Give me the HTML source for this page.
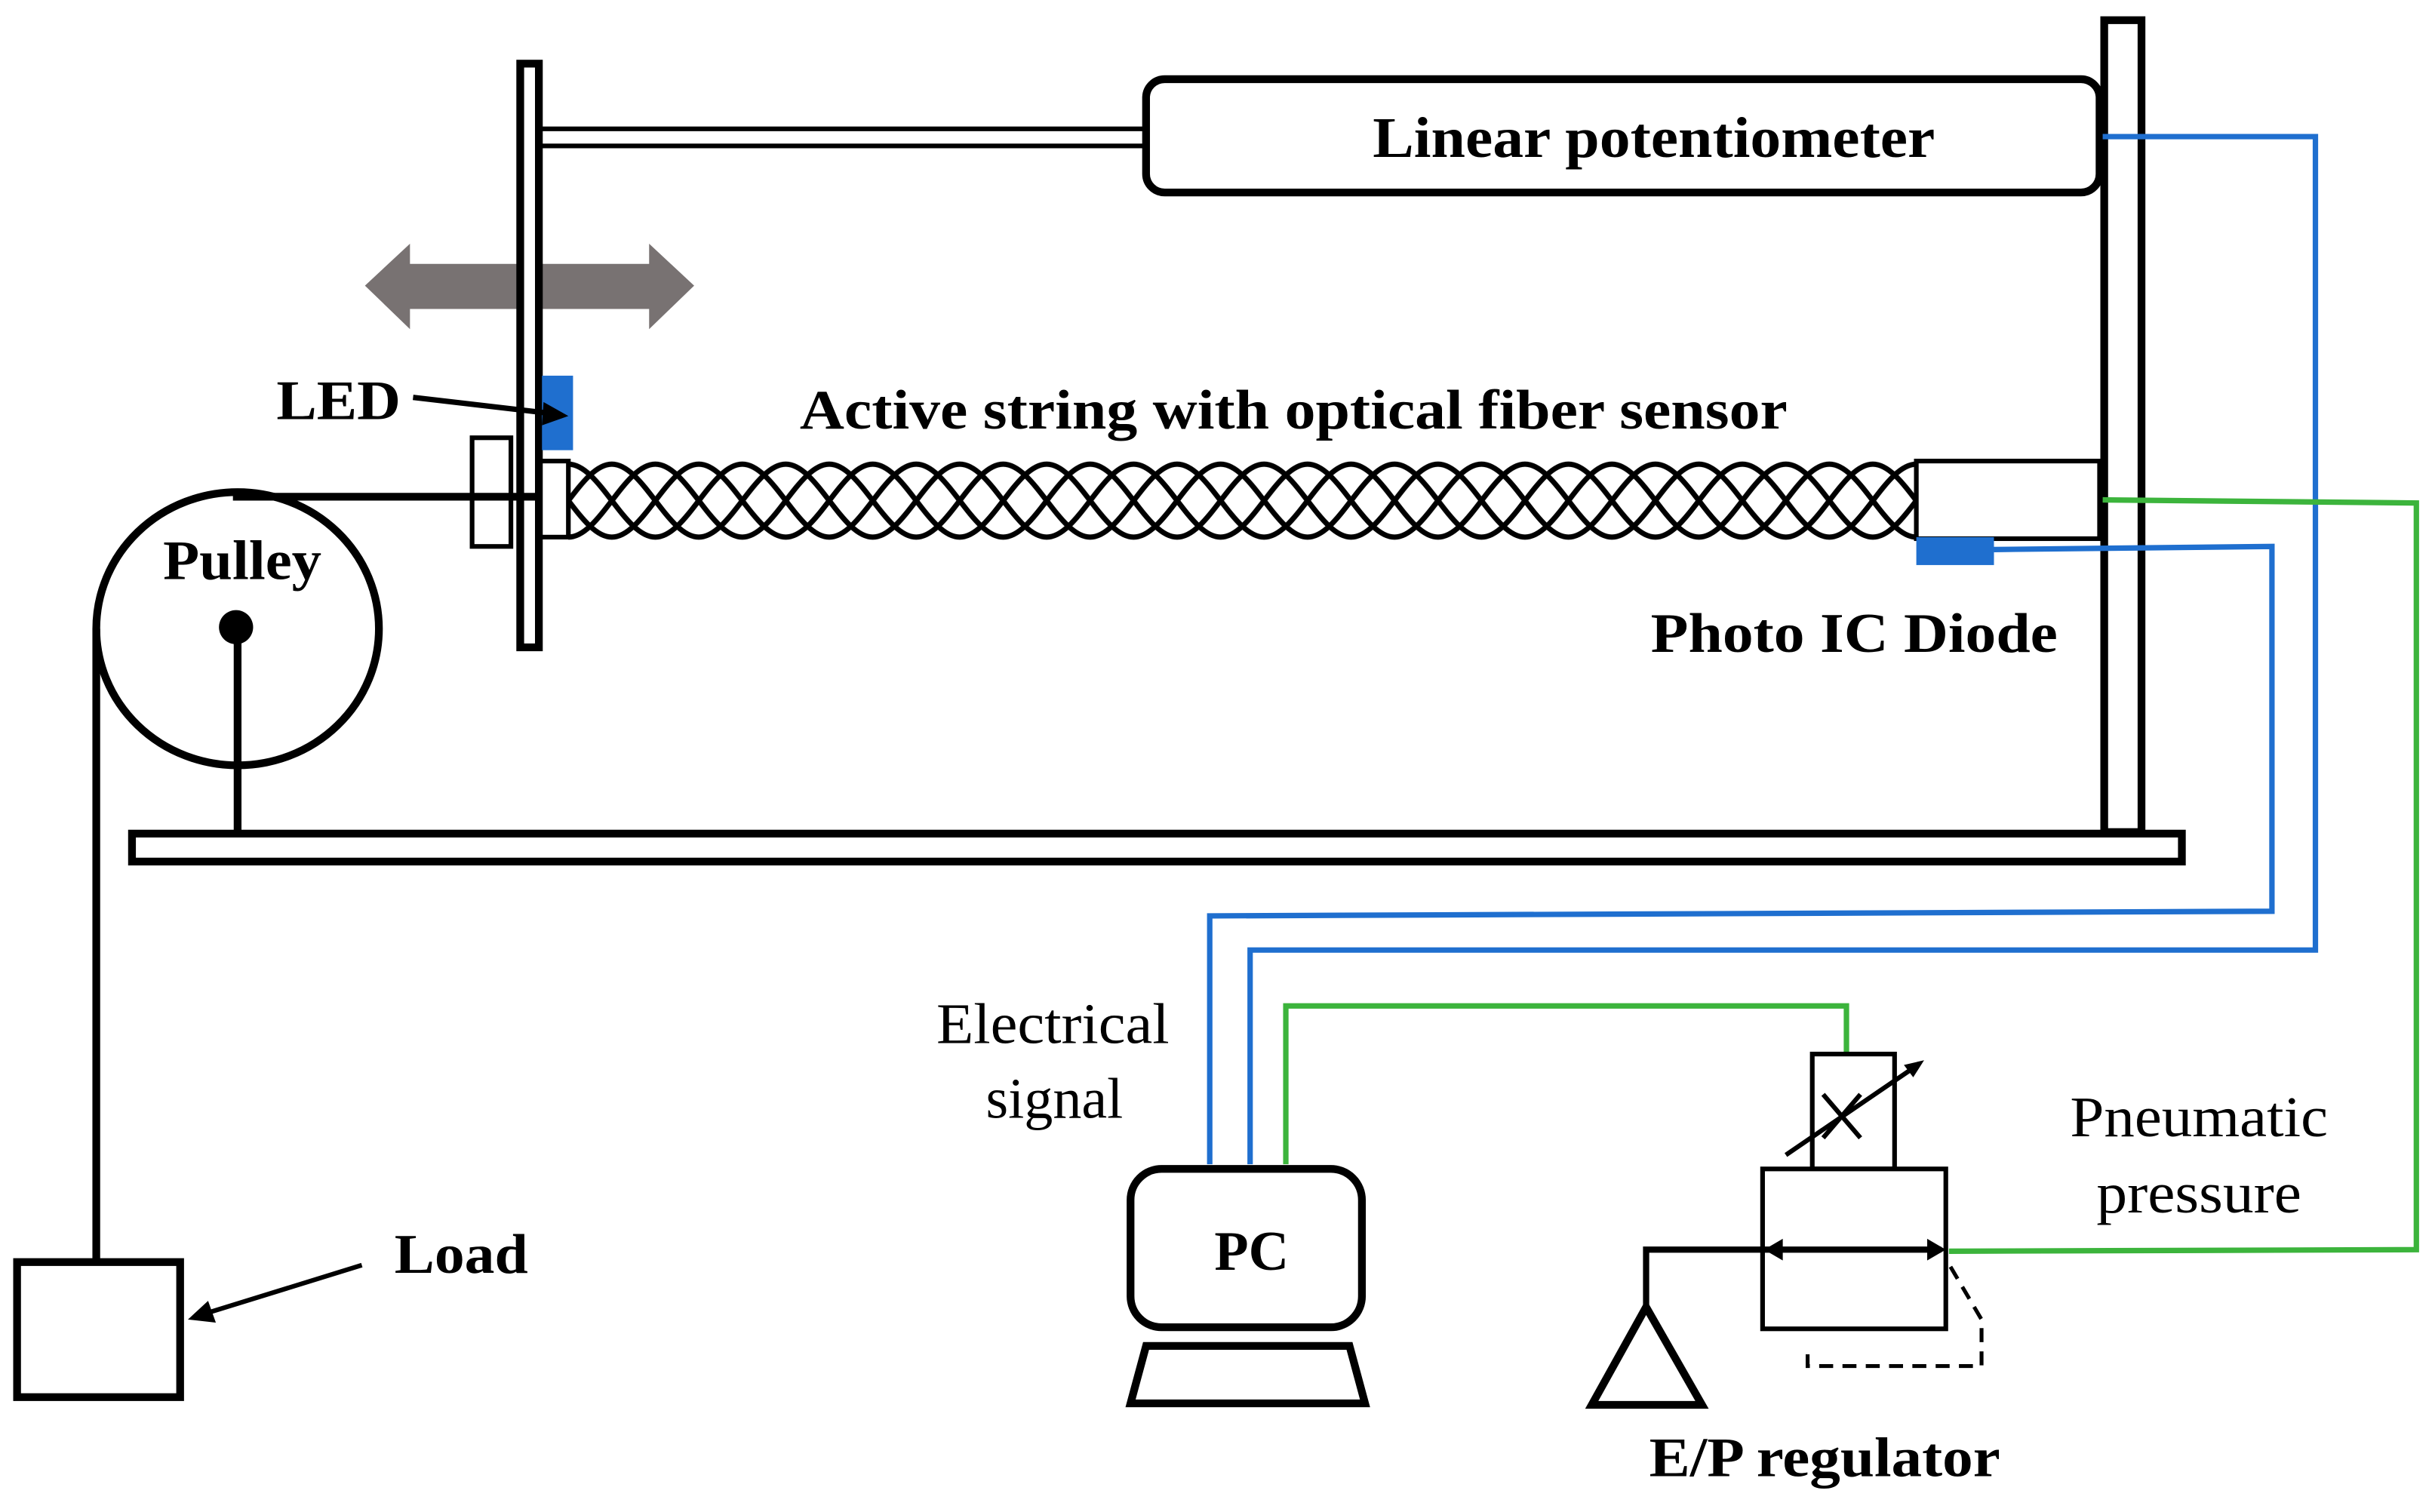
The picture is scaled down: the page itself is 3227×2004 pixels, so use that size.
<!DOCTYPE html>
<html><head><meta charset="utf-8"><style>
html,body{margin:0;padding:0;background:#fff;}
svg{display:block;}
text{font-family:"Liberation Serif",serif;fill:#000;}
.b{font-weight:bold;}
</style></head><body>
<svg width="3227" height="2004" viewBox="0 0 1568 974" preserveAspectRatio="none" xmlns="http://www.w3.org/2000/svg">
<defs>
<pattern id="rope" patternUnits="userSpaceOnUse" x="366" y="297" width="56" height="51">
<g fill="none" stroke="#000" stroke-width="3.4">
<path d="M0 2 C20 2 36 49 56 49"/>
<path d="M0 49 C20 49 36 2 56 2"/>
<path d="M-28 2 C-8 2 8 49 28 49 C48 49 64 2 84 2"/>
<path d="M-28 49 C-8 49 8 2 28 2 C48 2 64 49 84 49"/>
</g>
</pattern>
</defs>
<rect width="1568" height="974" fill="#fff"/>
<rect x="85" y="537" width="1320" height="18" fill="#fff" stroke="#000" stroke-width="5"/>
<rect x="1355" y="13" width="24" height="523" fill="#fff" stroke="#000" stroke-width="5"/>
<rect x="347" y="83" width="392" height="11" fill="#fff" stroke="#000" stroke-width="3"/>
<rect x="738" y="51" width="614" height="73" rx="12" fill="#fff" stroke="#000" stroke-width="5"/>
<text class="b" x="1065" y="101" font-size="37" text-anchor="middle" textLength="362" lengthAdjust="spacingAndGlyphs">Linear potentiometer</text>
<g fill="none" stroke="#1f6fcf" stroke-width="3.5">
<polyline points="1354,88 1491,88 1491,612 805,612 805,750"/>
<polyline points="1284,354 1463,352 1463,587 779,590 779,750"/>
</g>
<g fill="none" stroke="#3cb43c" stroke-width="3.5">
<polyline points="1354,322 1556,324 1556,805 1255,806"/>
<polyline points="828,750 828,648 1189,648 1189,678"/>
</g>
<polygon points="235,184 264,157 264,170 418,170 418,157 447,184 418,212 418,199 264,199 264,212" fill="#787272"/>
<rect x="335" y="41" width="12" height="376" fill="#fff" stroke="#000" stroke-width="5"/>
<rect x="349" y="242" width="20" height="48" fill="#1f6fcf"/>
<text class="b" x="178" y="270" font-size="36" textLength="80" lengthAdjust="spacingAndGlyphs">LED</text>
<line x1="266" y1="256" x2="352" y2="266" stroke="#000" stroke-width="3.5"/>
<polygon points="366,268 350,259 349,274" fill="#000"/>
<rect x="304" y="282" width="25" height="70" fill="#fff" stroke="#000" stroke-width="3"/>
<line x1="150" y1="320" x2="347" y2="320" stroke="#000" stroke-width="5"/>
<rect x="348" y="297" width="18" height="49" fill="#fff" stroke="#000" stroke-width="3"/>
<rect x="366" y="297" width="867" height="51" fill="url(#rope)"/>
<rect x="1234" y="297" width="118" height="50" fill="#fff" stroke="#000" stroke-width="3"/>
<rect x="1234" y="346" width="50" height="18" fill="#1f6fcf"/>
<text class="b" x="515" y="276" font-size="36" textLength="636" lengthAdjust="spacingAndGlyphs">Active string with optical fiber sensor</text>
<text class="b" x="1063" y="420" font-size="36" textLength="262" lengthAdjust="spacingAndGlyphs">Photo IC Diode</text>
<ellipse cx="153" cy="405" rx="91" ry="88" fill="none" stroke="#000" stroke-width="5"/>
<circle cx="152" cy="404" r="11" fill="#000"/>
<line x1="153" y1="404" x2="153" y2="537" stroke="#000" stroke-width="5"/>
<text class="b" x="105" y="373" font-size="36" textLength="102" lengthAdjust="spacingAndGlyphs">Pulley</text>
<line x1="62" y1="405" x2="62" y2="814" stroke="#000" stroke-width="5"/>
<rect x="11" y="813" width="105" height="87" fill="#fff" stroke="#000" stroke-width="5"/>
<text class="b" x="254" y="820" font-size="36" textLength="86" lengthAdjust="spacingAndGlyphs">Load</text>
<line x1="233" y1="815" x2="136" y2="845" stroke="#000" stroke-width="3"/>
<polygon points="121,850 134,838 139,852" fill="#000"/>
<rect x="728" y="753" width="149" height="102" rx="20" fill="#fff" stroke="#000" stroke-width="5"/>
<text class="b" x="806" y="818" font-size="36" text-anchor="middle">PC</text>
<polygon points="738,867 869,867 879,904 728,904" fill="#fff" stroke="#000" stroke-width="5"/>
<text x="678" y="672" font-size="37" text-anchor="middle" textLength="150" lengthAdjust="spacingAndGlyphs">Electrical</text>
<text x="679" y="720" font-size="37" text-anchor="middle">signal</text>
<rect x="1167" y="679" width="53" height="74" fill="#fff" stroke="#000" stroke-width="3"/>
<line x1="1174" y1="705" x2="1198" y2="733" stroke="#000" stroke-width="3"/>
<line x1="1198" y1="705" x2="1174" y2="733" stroke="#000" stroke-width="3"/>
<line x1="1150" y1="744" x2="1232" y2="688" stroke="#000" stroke-width="3"/>
<polygon points="1239,683 1226,686 1232,694" fill="#000"/>
<rect x="1135" y="753" width="118" height="103" fill="#fff" stroke="#000" stroke-width="3"/>
<polyline points="1060,842 1060,805 1250,805" fill="none" stroke="#000" stroke-width="4"/>
<polygon points="1136,805 1148,798 1148,812" fill="#000"/>
<polygon points="1253,805 1241,798 1241,812" fill="#000"/>
<polygon points="1060,842 1025,905 1096,905" fill="#fff" stroke="#000" stroke-width="5"/>
<polyline points="1256,816 1276,850 1276,880 1164,880 1164,868" fill="none" stroke="#000" stroke-width="2.5" stroke-dasharray="9,6"/>
<text x="1416" y="732" font-size="37" text-anchor="middle" textLength="166" lengthAdjust="spacingAndGlyphs">Pneumatic</text>
<text x="1416" y="781" font-size="37" text-anchor="middle" textLength="132" lengthAdjust="spacingAndGlyphs">pressure</text>
<text class="b" x="1175" y="951" font-size="36" text-anchor="middle" textLength="226" lengthAdjust="spacingAndGlyphs">E/P regulator</text>
</svg>
</body></html>
